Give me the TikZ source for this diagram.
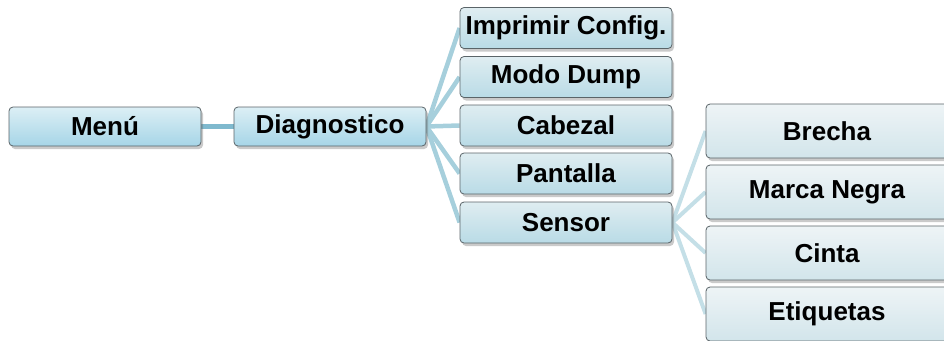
\documentclass[tikz,border=0pt]{standalone}
\usepackage{fontspec}
\setmainfont{Liberation Sans}
\usetikzlibrary{shadows,backgrounds}
\definecolor{lineA}{HTML}{7FB9CE}
\definecolor{lineB}{HTML}{A6CFDC}
\definecolor{lineC}{HTML}{C4DFE7}
\definecolor{topA}{HTML}{DCEFF5}
\definecolor{botA}{HTML}{A6D5E7}
\definecolor{topB}{HTML}{DFEDF1}
\definecolor{botB}{HTML}{B9DBE6}
\definecolor{topC}{HTML}{EEF4F6}
\definecolor{botC}{HTML}{D2E5EB}
\definecolor{edge}{HTML}{5A6468}
\tikzset{
  box/.style={draw=edge, line width=0.8pt, rounded corners=4pt, inner sep=0pt,
    font=\fontsize{26}{28}\selectfont\bfseries, text=black,
    drop shadow={shadow xshift=2pt, shadow yshift=-3pt, opacity=0.35, fill=black!60}},
  boxA/.style={box, top color=topA, bottom color=botA, minimum width=192pt, minimum height=39pt},
  boxB/.style={box, top color=topB, bottom color=botB, minimum width=212pt, minimum height=41pt},
  boxC/.style={box, top color=topC, bottom color=botC, minimum width=242pt, minimum height=54pt},
  conA/.style={draw=lineA, line width=5pt},
  conB/.style={draw=lineB, line width=4.5pt},
  conC/.style={draw=lineC, line width=4pt},
}
\begin{document}
\begin{tikzpicture}[x=1pt,y=-1pt]
\useasboundingbox (0,0) rectangle (944,340);
\clip (0,0) rectangle (944,340);
\node[boxA] (menu) at (105,126.5) {Menú};
\node[boxA] (diag) at (330,126.5) {Diagnostico};
\node[boxB] (impr) at (566,28) {Imprimir Config.};
\node[boxB] (dump) at (566,77) {Modo Dump};
\node[boxB] (cab) at (566,125.5) {Cabezal};
\node[boxB] (pant) at (566,173.5) {Pantalla};
\node[boxB] (sens) at (566,222.5) {Sensor};
\node[boxC] (brecha) at (827,131) {Brecha};
\node[boxC] (marca) at (827,192) {Marca Negra};
\node[boxC] (cinta) at (827,253) {Cinta};
\node[boxC] (etiq) at (827,314) {Etiquetas};
\begin{scope}[on background layer]
\draw[conA] (menu.east) -- (diag.west);
\foreach \n in {impr,dump,cab,pant,sens}
  \draw[conB] (diag.east) -- (\n.west);
\foreach \n in {brecha,marca,cinta,etiq}
  \draw[conC] (sens.east) -- (\n.west);
\end{scope}
\end{tikzpicture}
\end{document}
